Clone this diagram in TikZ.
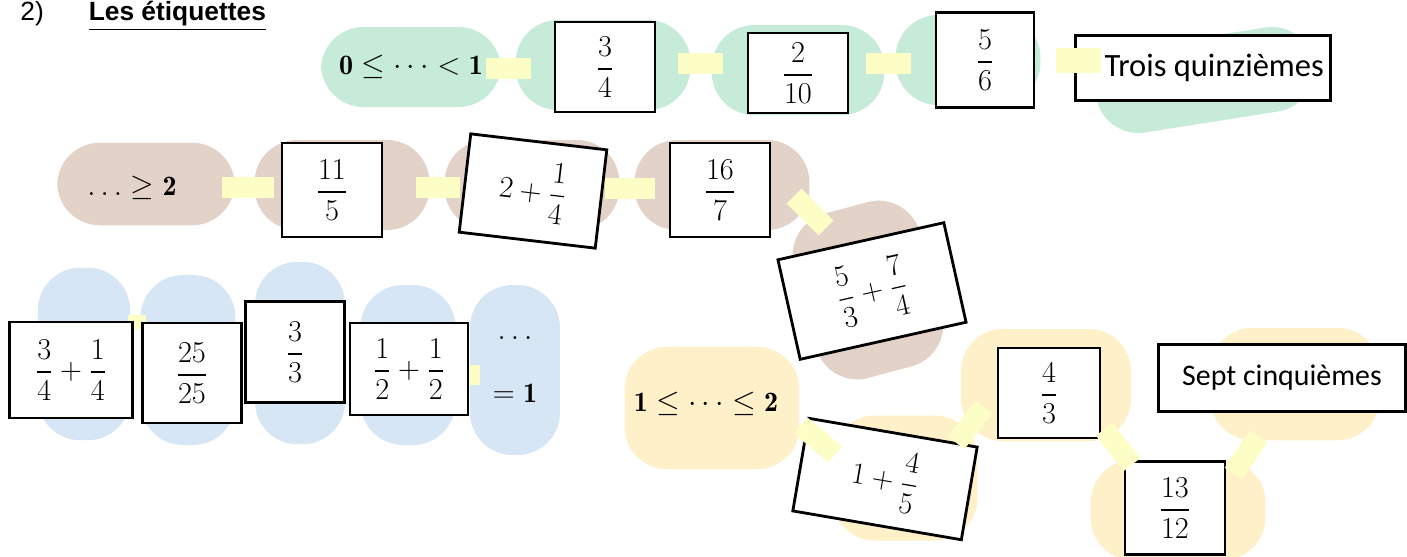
\documentclass[tikz,border=0pt]{standalone}
\usepackage{fontspec}
\usepackage{amsmath}
\newfontfamily\cardfont{Carlito}
\newfontfamily\titlefont{Liberation Sans}
\definecolor{mint}{HTML}{C6ECD9}
\definecolor{taupe}{HTML}{E3D2C8}
\definecolor{sky}{HTML}{D6E6F4}
\definecolor{cream}{HTML}{FEF0C9}
\definecolor{tapey}{HTML}{FDFDC6}

\begin{document}
\begin{tikzpicture}[x=0.02cm, y=-0.02cm]
    \fontsize{16pt}{19pt}\selectfont
    % --- STYLES ---
    \tikzstyle{blob} = [rectangle, rounded corners=0.85cm, inner sep=0pt]
    \tikzstyle{card} = [rectangle, draw=black, line width=1.6pt, fill=white, text centered, inner sep=0pt, minimum width=2cm, minimum height=1.85cm]
    \tikzstyle{wide} = [card, minimum height=1.3cm, font=\cardfont\fontsize{17pt}{20pt}\selectfont]
    \tikzstyle{tape} = [rectangle, fill=tapey, inner sep=0pt, minimum width=0.9cm, minimum height=0.42cm]

    \useasboundingbox (0,0) rectangle (1407,556);
    \clip (0,0) rectangle (1407,556);

    % --- TITLE ---
    \node (title) [anchor=base west, inner sep=0pt, font=\titlefont\fontsize{15pt}{17pt}\selectfont] at (20, 20) {2)\hspace{0.9cm}\textbf{\underline{Les étiquettes}}};

    % --- BLOBS ---
    % green: 0 <= ... < 1
    \node (g1) [blob, fill=mint, minimum width=3.6cm, minimum height=1.6cm] at (411, 67) {};
    \node (g2) [blob, fill=mint, minimum width=3.5cm, minimum height=1.8cm] at (603, 65) {};
    \node (g3) [blob, fill=mint, minimum width=3.45cm, minimum height=1.8cm] at (798, 70) {};
    \node (g4) [blob, fill=mint, minimum width=2.9cm, minimum height=1.8cm] at (968, 60) {};
    \node (g5) [blob, fill=mint, minimum width=4.4cm, minimum height=1.7cm, rotate=9] at (1205, 80) {};
    % brown: ... >= 2
    \node (b1) [blob, fill=taupe, minimum width=3.55cm, minimum height=1.65cm] at (146, 184) {};
    \node (b2) [blob, fill=taupe, minimum width=3.5cm, minimum height=1.8cm] at (342, 185) {};
    \node (b3) [blob, fill=taupe, minimum width=3.5cm, minimum height=1.8cm] at (532, 185) {};
    \node (b4) [blob, fill=taupe, minimum width=3.5cm, minimum height=1.8cm] at (722, 185) {};
    \node (b5) [blob, fill=taupe, minimum width=2.6cm, minimum height=3.4cm, rotate=15] at (868, 290) {};
    % blue: = 1
    \node (l1) [blob, fill=sky, minimum width=1.85cm, minimum height=3.45cm] at (84, 354) {};
    \node (l2) [blob, fill=sky, minimum width=1.9cm, minimum height=3.4cm] at (188, 360) {};
    \node (l3) [blob, fill=sky, minimum width=1.8cm, minimum height=3.65cm] at (300, 353) {};
    \node (l4) [blob, fill=sky, minimum width=1.9cm, minimum height=3.2cm] at (408, 365) {};
    \node (l5) [blob, fill=sky, minimum width=1.8cm, minimum height=3.4cm] at (515, 370) {};
    % yellow: 1 <= ... <= 2
    \node (y1) [blob, fill=cream, minimum width=3.5cm, minimum height=2.45cm] at (712, 408) {};
    \node (y2) [blob, fill=cream, minimum width=2.9cm, minimum height=2.5cm] at (905, 478) {};
    \node (y3) [blob, fill=cream, minimum width=3.4cm, minimum height=2.25cm] at (1046, 385) {};
    \node (y4) [blob, fill=cream, minimum width=3.5cm, minimum height=2cm] at (1178, 510) {};
    \node (y5) [blob, fill=cream, minimum width=3.4cm, minimum height=2.25cm] at (1295, 384) {};

    % --- LABELS ON BLOBS ---
    \node (lt01) at (411, 67) {$\mathbf{0}\le\cdots<\mathbf{1}$};
    \node (ge2) at (132, 188) {$\ldots\ge\mathbf{2}$};
    \node (dots) at (515, 338) {$\ldots$};
    \node (eq1) at (515, 393) {$=\mathbf{1}$};
    \node (le12) at (706, 404) {$\mathbf{1}\le\cdots\le\mathbf{2}$};

    % tape hidden behind the blue cards
    \node (t13) [tape, minimum width=0.36cm, minimum height=0.3cm] at (137, 322) {};
    \node (t14) [tape, minimum width=0.3cm, minimum height=0.4cm] at (472, 375) {};

    % --- CARDS ---
    \node (c34)   [card, minimum height=1.8cm] at (605, 67) {$\dfrac{3}{4}$};
    \node (c210)  [card, minimum height=1.6cm] at (798, 73) {$\dfrac{2}{10}$};
    \node (c56)   [card, minimum width=1.96cm, minimum height=1.9cm] at (985, 60) {$\dfrac{5}{6}$};
    \node (trois) [wide, minimum width=5.1cm, font=\cardfont\fontsize{18.5pt}{21pt}\selectfont] at (1203, 68) {\hspace{0.45cm}Trois quinzièmes};

    \node (c115)  [card, minimum height=1.88cm] at (332, 190) {$\dfrac{11}{5}$};
    \node (c214)  [card, minimum width=2.74cm, minimum height=1.98cm, rotate=-6.7] at (533, 191) {$2+\dfrac{1}{4}$};
    \node (c167)  [card, minimum height=1.88cm] at (720, 190) {$\dfrac{16}{7}$};
    \node (c5374) [card, minimum width=3.4cm, minimum height=2.04cm, rotate=12.6] at (872, 291) {$\dfrac{5}{3}+\dfrac{7}{4}$};

    \node (c3414) [card, minimum width=2.46cm, minimum height=1.92cm] at (71, 370) {$\dfrac{3}{4}+\dfrac{1}{4}$};
    \node (c2525) [card, minimum width=1.98cm, minimum height=2cm] at (192, 373) {$\dfrac{25}{25}$};
    \node (c33)   [card, minimum width=1.98cm, minimum height=2.02cm] at (295, 352) {$\dfrac{3}{3}$};
    \node (c1212) [card, minimum width=2.36cm, minimum height=1.84cm] at (409, 369) {$\dfrac{1}{2}+\dfrac{1}{2}$};

    \node (c145)  [card, minimum width=3.42cm, minimum height=1.88cm, rotate=-9.7] at (885, 479) {$1+\dfrac{4}{5}$};
    \node (c43)   [card, minimum width=2.04cm, minimum height=1.8cm] at (1049, 393) {$\dfrac{4}{3}$};
    \node (c1312) [card, minimum height=1.86cm] at (1175, 508) {$\dfrac{13}{12}$};
    \node (sept)  [wide, minimum width=4.94cm, minimum height=1.34cm] at (1282, 378) {Sept cinquièmes};

    % --- TAPES ---
    \node (tg12) [tape] at (508, 68) {};
    \node (tg23) [tape] at (700, 63) {};
    \node (tg34) [tape] at (888, 63) {};
    \node (tg45) [tape, minimum height=0.5cm] at (1078, 60) {};

    \node (tb12) [tape, minimum width=1.05cm] at (248, 187) {};
    \node (tb23) [tape] at (438, 187) {};
    \node (tb34) [tape, minimum width=1cm] at (630, 188) {};
    \node (tb45) [tape, rotate=-45] at (810, 212) {};

    \node (ty12) [tape, rotate=-40] at (818, 440) {};
    \node (ty23) [tape, rotate=52] at (970, 425) {};
    \node (ty34) [tape, rotate=-52] at (1118, 447) {};
    \node (ty45) [tape, rotate=56] at (1246, 455) {};

\end{tikzpicture}
\end{document}
